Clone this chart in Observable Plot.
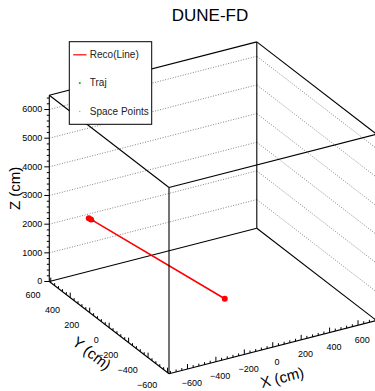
<!DOCTYPE html>
<html><head><meta charset="utf-8">
<script src="https://cdn.jsdelivr.net/npm/d3@7"></script>
<script src="https://cdn.jsdelivr.net/npm/@observablehq/plot@0.6"></script>
<style>body{margin:0;background:#fff;} svg{display:block;}</style>
</head><body><div id="chart"></div>
<script>
// ---- data ----
const title = "DUNE-FD";
const xRange = [-730, 730];
const yRange = [-615, 615];
const zRange = [0, 6500];
const xTicks = [-600, -400, -200, 0, 200, 400, 600];
const yTicks = [-600, -400, -200, 0, 200, 400, 600];
const zTicks = [0, 1000, 2000, 3000, 4000, 5000, 6000];
const zGrid = [1000, 2000, 3000, 4000, 5000, 6000];
const axisTitles = ["X (cm)", "Y (cm)", "Z (cm)"];
// reconstructed line (3D, cm)
const recoX = [-500, 0];
const recoY = [545, -122];
const recoZ = [2100, 397];
// red markers along the reco line
const markX = [-500, -492, 0];
const markY = [545, 534, -122];
const markZ = [2100, 2073, 397];
// space point (dark)
const spX = [-487];
const spY = [528];
const spZ = [2056];
const legendLabels = ["Reco(Line)", "Traj", "Space Points"];
const legendColors = ["#ff0000", "#00cc00", "#999999"];

// ---- layout / view ----
const view = {ox: 168.5, oy: 373.3, ax: 207.5, ay: -53.3, bx: -119.7, by: -92.3, cz: -186.3};
function proj(X, Y, Z) {
  const nx = (X - xRange[0]) / (xRange[1] - xRange[0]);
  const ny = (Y - yRange[0]) / (yRange[1] - yRange[0]);
  const nz = (Z - zRange[0]) / (zRange[1] - zRange[0]);
  return [view.ox + view.ax * nx + view.bx * ny, view.oy + view.ay * nx + view.by * ny + view.cz * nz];
}
const [x0, x1] = xRange, [y0, y1] = yRange, [z0, z1] = zRange;
function seg(a, b) { const p = proj(...a), q = proj(...b); return {x1: p[0], y1: p[1], x2: q[0], y2: q[1]}; }

const backEdges = [
  seg([x0, y1, z0], [x1, y1, z0]),
  seg([x1, y1, z0], [x1, y0, z0]),
  seg([x1, y1, z0], [x1, y1, z1])
];
const frontEdges = [
  seg([x0, y1, z0], [x0, y1, z1]),
  seg([x0, y1, z1], [x1, y1, z1]),
  seg([x1, y1, z1], [x1, y0, z1]),
  seg([x1, y0, z1], [x0, y0, z1]),
  seg([x0, y0, z1], [x0, y1, z1]),
  seg([x0, y0, z0], [x0, y0, z1]),
  seg([x1, y0, z0], [x1, y0, z1]),
  seg([x0, y0, z0], [x1, y0, z0]),
  seg([x0, y1, z0], [x0, y0, z0])
];
const grid = zGrid.flatMap(z => [seg([x0, y1, z], [x1, y1, z]), seg([x1, y1, z], [x1, y0, z])]);

function tickSegs(vals, f, len, dir) {
  return vals.map(v => { const p = f(v); return {x1: p[0], y1: p[1], x2: p[0] + dir[0] * len, y2: p[1] + dir[1] * len}; });
}
const fz = v => proj(x0, y1, v), fx = v => proj(v, y0, z0), fy = v => proj(x0, v, z0);
const zMinor = d3.range(0, 6500, 200).filter(v => v % 1000);
const xMinor = d3.range(-720, 730, 40).filter(v => v % 200);
const yMinor = d3.range(-600, 615, 40).filter(v => v % 200);
const ticks = [
  ...tickSegs(zTicks, fz, 5, [-1, 0]), ...tickSegs(zMinor, fz, 2.5, [-1, 0]),
  ...tickSegs(xTicks, fx, 5, [0, -1]), ...tickSegs(xMinor, fx, 2.5, [0, -1]),
  ...tickSegs(yTicks, fy, 5, [0, -1]), ...tickSegs(yMinor, fy, 2.5, [0, -1])
];
const fmt = v => (v < 0 ? "\u2212" : "") + Math.abs(v);
const zLab = zTicks.map(v => ({p: fz(v), t: fmt(v)}));
const xLab = xTicks.map(v => ({p: fx(v), t: fmt(v)}));
const yLab = yTicks.map(v => ({p: fy(v), t: fmt(v)}));

const reco = recoX.map((x, i) => proj(x, recoY[i], recoZ[i]));
const marks3 = markX.map((x, i) => proj(x, markY[i], markZ[i]));
const sp = spX.map((x, i) => proj(x, spY[i], spZ[i]));

const xMid = proj(0, y0, z0), yMid = proj(x0, 0, z0), zMid = proj(x0, y1, 3250);

// legend layout
const lg = {x1: 69.3, y1: 41.7, x2: 151.7, y2: 124.3, row0: 54.3, step: 28.3, sym: 79.3, text: 89.3};
const legendRows = legendLabels.map((t, i) => ({t, c: legendColors[i], y: lg.row0 + i * lg.step}));

const font = 9;
const chart = Plot.plot({
  width: 375, height: 391, margin: 0,
  x: {type: "identity", axis: null}, y: {type: "identity", axis: null},
  style: {fontFamily: "'Liberation Sans', Arial, Helvetica, sans-serif", background: "#fff"},
  marks: [
    Plot.link(grid, {x1: "x1", y1: "y1", x2: "x2", y2: "y2", stroke: "#777", strokeWidth: 0.9, strokeDasharray: "1,1.6"}),
    Plot.link(backEdges, {x1: "x1", y1: "y1", x2: "x2", y2: "y2", stroke: "#000", strokeWidth: 1.1}),
    Plot.dot(sp, {x: d => d[0], y: d => d[1], r: 2, fill: "#111", stroke: null}),
    Plot.line(reco, {x: d => d[0], y: d => d[1], stroke: "#ff0000", strokeWidth: 1.6}),
    Plot.dot(marks3, {x: d => d[0], y: d => d[1], r: 3, fill: "#ff0000", stroke: null}),
    Plot.link(frontEdges, {x1: "x1", y1: "y1", x2: "x2", y2: "y2", stroke: "#000", strokeWidth: 1.1}),
    Plot.link(ticks, {x1: "x1", y1: "y1", x2: "x2", y2: "y2", stroke: "#000", strokeWidth: 1}),
    Plot.text(zLab, {x: d => d.p[0], y: d => d.p[1], text: "t", textAnchor: "end", dx: -7, fontSize: font, fill: "#000"}),
    Plot.text(xLab, {x: d => d.p[0], y: d => d.p[1], text: "t", textAnchor: "middle", dx: 4.3, dy: 14.5, fontSize: font, fill: "#000"}),
    Plot.text(yLab, {x: d => d.p[0], y: d => d.p[1], text: "t", textAnchor: "end", dx: -10.3, dy: 12, fontSize: font, fill: "#000"}),
    Plot.text([axisTitles[0]], {x: xMid[0], y: xMid[1], text: d => d, rotate: -14.4, dx: 9.5, dy: 30.6, fontSize: 15, fill: "#000"}),
    Plot.text([axisTitles[1]], {x: yMid[0], y: yMid[1], text: d => d, rotate: 37.6, dx: -17.6, dy: 26, fontSize: 15, fill: "#000"}),
    Plot.text([axisTitles[2]], {x: zMid[0], y: zMid[1], text: d => d, rotate: -90, dx: -34.5, fontSize: 15, fill: "#000"}),
    Plot.text([title], {x: 209.5, y: 15, text: d => d, fontSize: 17, fill: "#000"}),
    // legend
    Plot.rect([lg], {x1: "x1", y1: "y1", x2: "x2", y2: "y2", fill: "#fff", stroke: "#000", strokeWidth: 1}),
    Plot.link(legendRows.slice(0, 1), {x1: lg.x1 + 3.4, x2: lg.x1 + 16.7, y1: "y", y2: "y", stroke: "c", strokeWidth: 1.2}),
    Plot.dot(legendRows.slice(1, 2), {x: lg.sym, y: "y", r: 1.1, fill: "c", stroke: null}),
    Plot.dot(legendRows.slice(2, 3), {x: lg.sym, y: "y", r: 0.6, fill: "c", stroke: null}),
    Plot.text(legendRows, {x: lg.text, y: "y", text: "t", textAnchor: "start", fontSize: 10, fill: "#222"})
  ]
});
document.getElementById("chart").appendChild(chart);
</script>
</body></html>
